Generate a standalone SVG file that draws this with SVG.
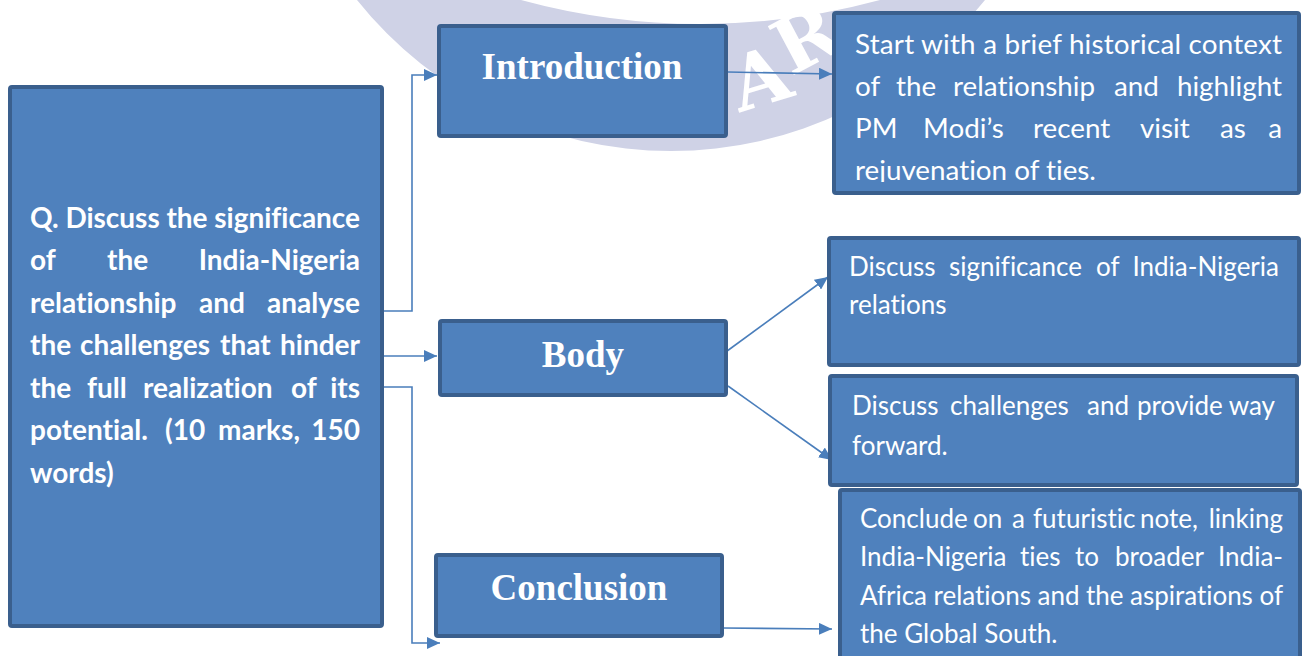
<svg xmlns="http://www.w3.org/2000/svg" width="1302" height="656" viewBox="0 0 1302 656">
  <defs>
    <style>
      text { font-variant-ligatures: none; }
      .box { fill: #4f81bd; stroke: #3a5f8d; stroke-width: 4; }
      .ttl { font-family: "Liberation Serif", "Times New Roman", serif; font-weight: bold; font-size: 37px; fill: #ffffff; text-anchor: middle; }
      .q { font-family: Lato, "Open Sans", sans-serif; font-weight: bold; font-size: 28px; fill: #ffffff; }
      .tl { font-family: Lato, "Open Sans", sans-serif; font-size: 27.8px; fill: #ffffff; }
      .tm { font-family: Lato, "Open Sans", sans-serif; font-size: 26px; fill: #ffffff; }
      .e { text-anchor: end; }
      .conn { fill: none; stroke: #4a7ebb; stroke-width: 1.6; }
      .wm { fill: #cfd2e6; }
      .wmt { font-family: "DejaVu Serif", serif; font-weight: bold; font-size: 76px; fill: #ffffff; text-anchor: middle; }
    </style>
    <marker id="arrow" viewBox="0 0 13 12" refX="13" refY="6" markerWidth="13" markerHeight="12" markerUnits="userSpaceOnUse" orient="auto">
      <path d="M0,0 L13,6 L0,12 Z" fill="#4a7ebb"/>
    </marker>
    <clipPath id="clipIntroText">
      <rect x="834" y="13" width="465" height="169"/>
    </clipPath>
  </defs>

  <rect width="1302" height="656" fill="#ffffff"/>

  <!-- faint circular watermark behind the chart -->
  <g id="watermark">
    <path class="wm" d="M357,0 A402,402 0 0 0 985,0 L880,0 A683,683 0 0 1 521,0 Z"/>
    <text class="wmt" transform="translate(760,78) rotate(-17)" x="0" y="27">A</text>
    <text class="wmt" transform="translate(806,38) rotate(-28)" x="0" y="27">R</text>
  </g>

  <!-- connectors -->
  <g id="connectors">
    <path class="conn" d="M384,311 H412 V75 H437" marker-end="url(#arrow)"/>
    <path class="conn" d="M384,356 H437" marker-end="url(#arrow)"/>
    <path class="conn" d="M384,387 H412 V643 H440" marker-end="url(#arrow)"/>
    <path class="conn" d="M728,72 L832,74" marker-end="url(#arrow)"/>
    <path class="conn" d="M723,354 L828,277" marker-end="url(#arrow)"/>
    <path class="conn" d="M728,386 L832,460" marker-end="url(#arrow)"/>
    <path class="conn" d="M723,628 L832,629" marker-end="url(#arrow)"/>
  </g>

  <!-- question -->
  <g id="question">
    <rect class="box" x="10" y="87" width="372" height="539" rx="2"/>
    <text class="q" x="30" y="228" textLength="330" lengthAdjust="spacing">Q. Discuss the significance</text>
    <text class="q" x="30" y="270">of</text>
    <text class="q" x="107" y="270">the</text>
    <text class="q e" x="360" y="270">India-Nigeria</text>
    <text class="q" x="30" y="313">relationship</text>
    <text class="q" x="199" y="313">and</text>
    <text class="q e" x="360" y="313">analyse</text>
    <text class="q" x="30" y="355">the</text>
    <text class="q" x="80" y="355">challenges</text>
    <text class="q" x="220" y="355">that</text>
    <text class="q e" x="360" y="355">hinder</text>
    <text class="q" x="30" y="398">the</text>
    <text class="q" x="87" y="398">full</text>
    <text class="q" x="143" y="398">realization</text>
    <text class="q" x="291" y="398">of</text>
    <text class="q e" x="360" y="398">its</text>
    <text class="q" x="30" y="440">potential.</text>
    <text class="q" x="165" y="440">(10</text>
    <text class="q" x="218" y="440">marks,</text>
    <text class="q e" x="360" y="440">150</text>
    <text class="q" x="30" y="483">words)</text>
  </g>

  <!-- section headings -->
  <g id="introduction">
    <rect class="box" x="439" y="26" width="287" height="110" rx="2"/>
    <text class="ttl" x="582" y="79">Introduction</text>
  </g>
  <g id="body">
    <rect class="box" x="440" y="321" width="286" height="74" rx="2"/>
    <text class="ttl" x="583" y="367">Body</text>
  </g>
  <g id="conclusion">
    <rect class="box" x="436" y="555" width="286" height="81" rx="2"/>
    <text class="ttl" x="579" y="600">Conclusion</text>
  </g>

  <!-- introduction notes -->
  <g id="intro-note">
    <rect class="box" x="834" y="13" width="465" height="180" rx="2"/>
    <text class="tl" x="855" y="54" textLength="427" lengthAdjust="spacing">Start with a brief historical context</text>
    <text class="tl" x="855" y="96">of</text>
    <text class="tl" x="896" y="96">the</text>
    <text class="tl" x="953" y="96">relationship</text>
    <text class="tl" x="1114" y="96">and</text>
    <text class="tl e" x="1282" y="96">highlight</text>
    <text class="tl" x="855" y="138">PM</text>
    <text class="tl" x="923" y="138">Modi’s</text>
    <text class="tl" x="1033" y="138">recent</text>
    <text class="tl" x="1140" y="138">visit</text>
    <text class="tl" x="1220" y="138">as</text>
    <text class="tl e" x="1282" y="138">a</text>
    <text class="tl" x="855" y="180" clip-path="url(#clipIntroText)">rejuvenation of ties.</text>
  </g>

  <!-- body notes -->
  <g id="body-note-significance">
    <rect class="box" x="829" y="238" width="470" height="127" rx="2"/>
    <text class="tm" x="849" y="276">Discuss</text>
    <text class="tm" x="949" y="276">significance</text>
    <text class="tm" x="1096" y="276">of</text>
    <text class="tm e" x="1279" y="276">India-Nigeria</text>
    <text class="tm" x="849" y="314">relations</text>
  </g>
  <g id="body-note-challenges">
    <rect class="box" x="830" y="376" width="467" height="109" rx="2"/>
    <text class="tm" x="852" y="415">Discuss</text>
    <text class="tm" x="950" y="415">challenges</text>
    <text class="tm" x="1087" y="415">and</text>
    <text class="tm" x="1137" y="415">provide</text>
    <text class="tm e" x="1275" y="415">way</text>
    <text class="tm" x="852" y="455">forward.</text>
  </g>

  <!-- conclusion notes -->
  <g id="conclusion-note">
    <rect class="box" x="840" y="490" width="460" height="175" rx="2"/>
    <text class="tm" x="860" y="528">Conclude</text>
    <text class="tm" x="973" y="528">on</text>
    <text class="tm" x="1012" y="528">a</text>
    <text class="tm" x="1033" y="528">futuristic</text>
    <text class="tm" x="1140" y="528">note,</text>
    <text class="tm e" x="1283" y="528">linking</text>
    <text class="tm" x="860" y="566">India-Nigeria</text>
    <text class="tm" x="1020" y="566">ties</text>
    <text class="tm" x="1075" y="566">to</text>
    <text class="tm" x="1115" y="566">broader</text>
    <text class="tm e" x="1283" y="566">India-</text>
    <text class="tm" x="860" y="605" textLength="423" lengthAdjust="spacing">Africa relations and the aspirations of</text>
    <text class="tm" x="860" y="643">the Global South.</text>
  </g>
</svg>
